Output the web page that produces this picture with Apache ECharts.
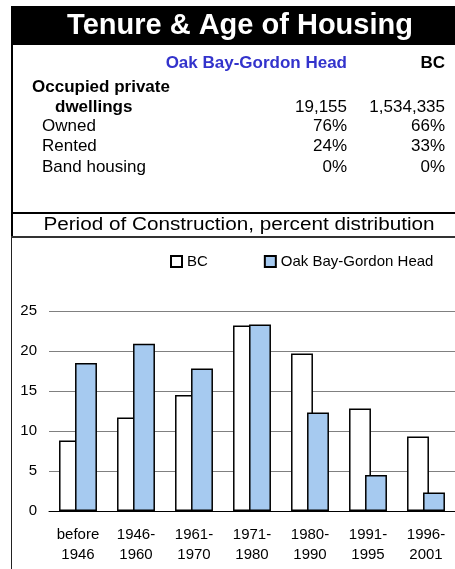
<!DOCTYPE html>
<html>
<head>
<meta charset="utf-8">
<script src="https://cdn.jsdelivr.net/npm/echarts@6/dist/echarts.min.js"></script>
<style>
  html, body { margin: 0; padding: 0; background: #fff; }
  #chart { width: 455px; height: 569px; }
</style>
</head>
<body>
<div id="chart"></div>
<script>
// period of construction, percent distribution
const categories = ['before\n1946', '1946-\n1960', '1961-\n1970', '1971-\n1980', '1980-\n1990', '1991-\n1995', '1996-\n2001'];
const bcValues = [8.8, 11.7, 14.5, 23.2, 19.7, 12.8, 9.3];
const oakBayValues = [18.5, 20.9, 17.8, 23.3, 12.3, 4.5, 2.3];
const seriesNames = ['BC', 'Oak Bay-Gordon Head'];

// tenure table
const tableHeaders = ['Oak Bay-Gordon Head', 'BC'];
const rowLabels = ['Owned', 'Rented', 'Band housing'];
const oakBayTenure = ['76%', '24%', '0%'];
const bcTenure = ['66%', '33%', '0%'];
const dwellings = ['19,155', '1,534,335'];

const FONT = '"Liberation Sans", Arial, Helvetica, sans-serif';

function txt(text, x, y, size, opts) {
  opts = opts || {};
  return {
    type: 'text',
    x: x, y: y,
    scaleX: opts.scaleX || 1,
    silent: true,
    style: {
      text: text,
      fill: opts.color || '#000',
      font: (opts.bold ? 'bold ' : '') + size + 'px ' + FONT,
      align: opts.align || 'left',
      verticalAlign: 'middle'
    }
  };
}

const graphics = [
  // title bar
  { type: 'rect', shape: { x: 11, y: 6, width: 444, height: 39 }, style: { fill: '#000' }, silent: true },
  txt('Tenure & Age of Housing', 240, 26, 29, { bold: true, color: '#fff', align: 'center' }),
  // frame lines
  { type: 'rect', shape: { x: 11, y: 45, width: 2, height: 192 }, style: { fill: '#000' }, silent: true },
  { type: 'rect', shape: { x: 11, y: 237, width: 1, height: 332 }, style: { fill: '#222' }, silent: true },
  { type: 'rect', shape: { x: 11, y: 212, width: 444, height: 2 }, style: { fill: '#000' }, silent: true },
  { type: 'rect', shape: { x: 11, y: 236, width: 444, height: 2 }, style: { fill: '#333' }, silent: true },
  // table
  txt(tableHeaders[0], 347, 63, 17, { bold: true, color: '#3333CC', align: 'right' }),
  txt(tableHeaders[1], 445, 63, 17, { bold: true, align: 'right' }),
  txt('Occupied private', 32, 87, 17, { bold: true }),
  txt('dwellings', 55, 107, 17, { bold: true }),
  txt(dwellings[0], 347, 107, 17, { align: 'right' }),
  txt(dwellings[1], 445, 107, 17, { align: 'right' }),
  // section title
  txt('Period of Construction, percent distribution', 239, 225, 18, { align: 'center', scaleX: 1.15 })
];
rowLabels.forEach(function (label, i) {
  const y = 126 + i * 20.5;
  graphics.push(txt(label, 42, y, 17));
  graphics.push(txt(oakBayTenure[i], 347, y, 17, { align: 'right' }));
  graphics.push(txt(bcTenure[i], 445, y, 17, { align: 'right' }));
});

const chart = echarts.init(document.getElementById('chart'));
chart.setOption({
  animation: false,
  backgroundColor: '#fff',
  textStyle: { fontFamily: FONT },
  graphic: graphics,
  legend: {
    left: 165,
    top: 249,
    icon: 'rect',
    itemWidth: 11,
    itemHeight: 11,
    itemGap: 56,
    textStyle: { fontSize: 15, color: '#000', fontFamily: FONT },
    data: seriesNames
  },
  grid: { left: 49, right: 0, top: 311, bottom: 58 },
  xAxis: {
    type: 'category',
    data: categories,
    axisLine: { lineStyle: { color: '#000', width: 1 } },
    axisTick: { show: false },
    axisLabel: { fontSize: 15, lineHeight: 20, color: '#000', margin: 14, interval: 0, fontFamily: FONT }
  },
  yAxis: {
    type: 'value',
    min: 0,
    max: 25,
    interval: 5,
    axisLine: { show: false },
    axisTick: { show: false },
    axisLabel: { fontSize: 15, color: '#000', margin: 12, fontFamily: FONT },
    splitLine: { lineStyle: { color: '#808080', width: 1 } }
  },
  series: [
    {
      name: seriesNames[0],
      type: 'bar',
      data: bcValues,
      barWidth: '37.8%',
      barGap: '-27%',
      itemStyle: { color: '#fff', borderColor: '#000', borderWidth: 1.5 }
    },
    {
      name: seriesNames[1],
      type: 'bar',
      data: oakBayValues,
      barWidth: '37.8%',
      barGap: '-27%',
      itemStyle: { color: '#A6CAF0', borderColor: '#000', borderWidth: 1.5 }
    }
  ]
});
</script>
</body>
</html>
